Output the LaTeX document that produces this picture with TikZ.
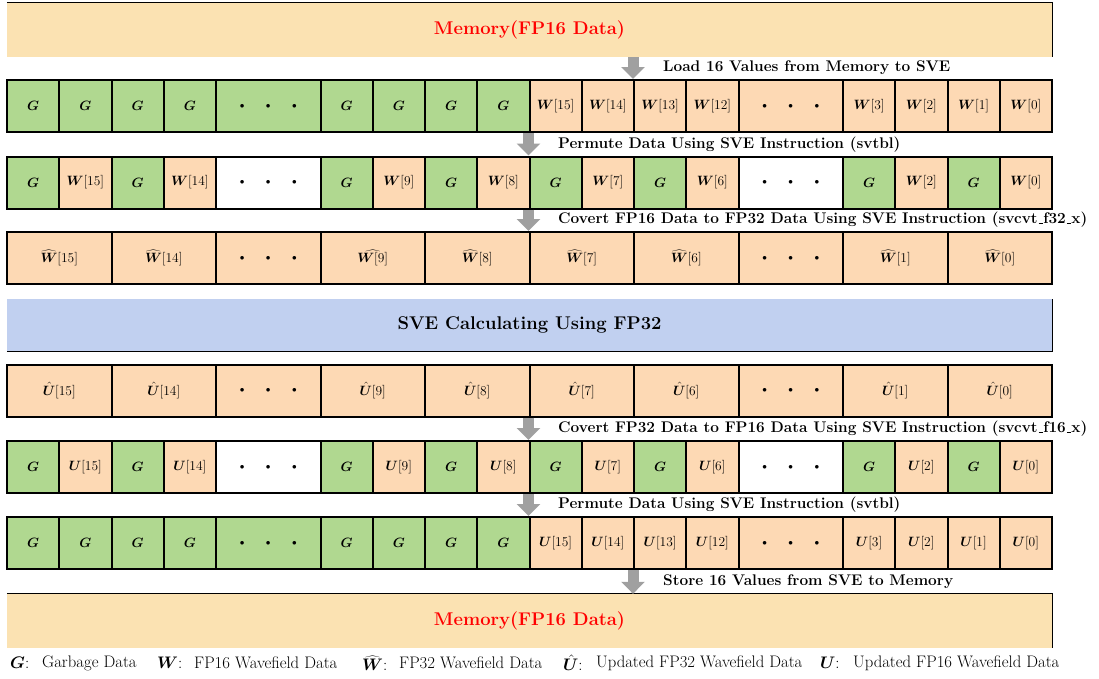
\RequirePackage{fix-cm}
\documentclass[tikz,border=0pt]{standalone}
\usepackage{bm}
\usepackage{fontspec}
\usetikzlibrary{arrows.meta}

\definecolor{cgreen}{RGB}{176,216,144}
\definecolor{cpeach}{RGB}{253,217,180}
\definecolor{cwheat}{RGB}{251,226,178}
\definecolor{cblue}{RGB}{193,208,240}
\definecolor{cgray}{RGB}{160,160,160}
\definecolor{cred}{RGB}{255,0,0}

\tikzset{
  cell/.style={draw, line width=2pt, inner sep=0pt, minimum height=52pt,
    font=\fontsize{13.5}{15}\selectfont},
  bandbox/.style={inner sep=0pt, minimum width=1045pt, minimum height=54pt,
    font=\fontsize{18.4}{21}\selectfont\bfseries},
  bandedge/.style={line width=1pt},
  flow/.style={line width=11pt, draw=cgray, -{Triangle[length=12pt,width=23pt]}},
  steplabel/.style={anchor=west, inner sep=0pt,
    font=\fontsize{15.4}{18}\selectfont\bfseries},
  legend/.style={anchor=west, inner sep=0pt, font=\fontsize{16.7}{19}\selectfont},
}

% three dots standing for the omitted lanes
\newcommand\lanedots{{\fontsize{9}{9}\selectfont$\bullet$\hspace{21.5pt}$\bullet$\hspace{21.5pt}$\bullet$}}
% narrow underscore for the intrinsic names
\newcommand\ubar{\kern.06em\vbox{\hrule width.3em height .6pt}}

% one register row: name, centre y, list of start/width/colour/text
\newcommand\lanerow[3]{%
  \foreach \s/\w/\c/\t [count=\i] in {#3} {
    \node[cell, fill=\c, minimum width={\w*52.25pt}] (#1-\i)
      at ({7+(\s+\w/2)*52.25}, #2) {\t};
  }}

\begin{document}
\begin{tikzpicture}[x=1pt, y=-1pt]
\useasboundingbox (0,0) rectangle (1099,678);

% memory (top)
\node[bandbox, fill=cwheat, text=cred] (mem1) at (529.5,30) {Memory(FP16 Data)};
\draw[bandedge] (mem1.north west) -- (mem1.north east) -- (mem1.south east);

% loaded FP16 lanes
\lanerow{r1}{106}{0/1/cgreen/{$\bm{G}$}, 1/1/cgreen/{$\bm{G}$}, 2/1/cgreen/{$\bm{G}$}, 3/1/cgreen/{$\bm{G}$},
  4/2/cgreen/{\lanedots}, 6/1/cgreen/{$\bm{G}$}, 7/1/cgreen/{$\bm{G}$}, 8/1/cgreen/{$\bm{G}$}, 9/1/cgreen/{$\bm{G}$},
  10/1/cpeach/{$\bm{W}[15]$}, 11/1/cpeach/{$\bm{W}[14]$}, 12/1/cpeach/{$\bm{W}[13]$}, 13/1/cpeach/{$\bm{W}[12]$},
  14/2/cpeach/{\lanedots}, 16/1/cpeach/{$\bm{W}[3]$}, 17/1/cpeach/{$\bm{W}[2]$}, 18/1/cpeach/{$\bm{W}[1]$}, 19/1/cpeach/{$\bm{W}[0]$}}

% permuted FP16 lanes
\lanerow{r2}{182.5}{0/1/cgreen/{$\bm{G}$}, 1/1/cpeach/{$\bm{W}[15]$}, 2/1/cgreen/{$\bm{G}$}, 3/1/cpeach/{$\bm{W}[14]$},
  4/2/white/{\lanedots}, 6/1/cgreen/{$\bm{G}$}, 7/1/cpeach/{$\bm{W}[9]$}, 8/1/cgreen/{$\bm{G}$}, 9/1/cpeach/{$\bm{W}[8]$},
  10/1/cgreen/{$\bm{G}$}, 11/1/cpeach/{$\bm{W}[7]$}, 12/1/cgreen/{$\bm{G}$}, 13/1/cpeach/{$\bm{W}[6]$},
  14/2/white/{\lanedots}, 16/1/cgreen/{$\bm{G}$}, 17/1/cpeach/{$\bm{W}[2]$}, 18/1/cgreen/{$\bm{G}$}, 19/1/cpeach/{$\bm{W}[0]$}}

% FP32 lanes
\lanerow{r3}{258}{0/2/cpeach/{$\widehat{\bm{W}}[15]$}, 2/2/cpeach/{$\widehat{\bm{W}}[14]$}, 4/2/cpeach/{\lanedots},
  6/2/cpeach/{$\widehat{\bm{W}[9]}$}, 8/2/cpeach/{$\widehat{\bm{W}}[8]$}, 10/2/cpeach/{$\widehat{\bm{W}}[7]$},
  12/2/cpeach/{$\widehat{\bm{W}}[6]$}, 14/2/cpeach/{\lanedots}, 16/2/cpeach/{$\widehat{\bm{W}}[1]$}, 18/2/cpeach/{$\widehat{\bm{W}}[0]$}}

% computation band
\node[bandbox, minimum height=52pt, fill=cblue] (sve) at (529.5,325) {SVE Calculating Using FP32};
\draw[bandedge] (sve.south west) -- (sve.south east) -- (sve.north east);

% updated FP32 lanes
\lanerow{r4}{390.5}{0/2/cpeach/{$\hat{\bm{U}}[15]$}, 2/2/cpeach/{$\hat{\bm{U}}[14]$}, 4/2/cpeach/{\lanedots},
  6/2/cpeach/{$\hat{\bm{U}}[9]$}, 8/2/cpeach/{$\hat{\bm{U}}[8]$}, 10/2/cpeach/{$\hat{\bm{U}}[7]$},
  12/2/cpeach/{$\hat{\bm{U}}[6]$}, 14/2/cpeach/{\lanedots}, 16/2/cpeach/{$\hat{\bm{U}}[1]$}, 18/2/cpeach/{$\hat{\bm{U}}[0]$}}

% converted FP16 lanes
\lanerow{r5}{467}{0/1/cgreen/{$\bm{G}$}, 1/1/cpeach/{$\bm{U}[15]$}, 2/1/cgreen/{$\bm{G}$}, 3/1/cpeach/{$\bm{U}[14]$},
  4/2/white/{\lanedots}, 6/1/cgreen/{$\bm{G}$}, 7/1/cpeach/{$\bm{U}[9]$}, 8/1/cgreen/{$\bm{G}$}, 9/1/cpeach/{$\bm{U}[8]$},
  10/1/cgreen/{$\bm{G}$}, 11/1/cpeach/{$\bm{U}[7]$}, 12/1/cgreen/{$\bm{G}$}, 13/1/cpeach/{$\bm{U}[6]$},
  14/2/white/{\lanedots}, 16/1/cgreen/{$\bm{G}$}, 17/1/cpeach/{$\bm{U}[2]$}, 18/1/cgreen/{$\bm{G}$}, 19/1/cpeach/{$\bm{U}[0]$}}

% packed FP16 lanes
\lanerow{r6}{543}{0/1/cgreen/{$\bm{G}$}, 1/1/cgreen/{$\bm{G}$}, 2/1/cgreen/{$\bm{G}$}, 3/1/cgreen/{$\bm{G}$},
  4/2/cgreen/{\lanedots}, 6/1/cgreen/{$\bm{G}$}, 7/1/cgreen/{$\bm{G}$}, 8/1/cgreen/{$\bm{G}$}, 9/1/cgreen/{$\bm{G}$},
  10/1/cpeach/{$\bm{U}[15]$}, 11/1/cpeach/{$\bm{U}[14]$}, 12/1/cpeach/{$\bm{U}[13]$}, 13/1/cpeach/{$\bm{U}[12]$},
  14/2/cpeach/{\lanedots}, 16/1/cpeach/{$\bm{U}[3]$}, 17/1/cpeach/{$\bm{U}[2]$}, 18/1/cpeach/{$\bm{U}[1]$}, 19/1/cpeach/{$\bm{U}[0]$}}

% memory (bottom)
\node[bandbox, fill=cwheat, text=cred] (mem2) at (529.5,621) {Memory(FP16 Data)};
\draw[bandedge] (mem2.north west) -- (mem2.north east) -- (mem2.south east);

% data movement arrows
\draw[flow] (mem1.south -| r1-12.north west) -- (r1-12.north west);
\draw[flow] (r1-10.south west) -- (r2-10.north west);
\draw[flow] (r2-10.south west) -- (r3-6.north west);
\draw[flow] (r4-6.south west) -- (r5-10.north west);
\draw[flow] (r5-10.south west) -- (r6-10.north west);
\draw[flow] (r6-12.south west) -- (mem2.north -| r6-12.south west);

% step labels
\node[steplabel] (s1) at (663,68) {Load 16 Values from Memory to SVE};
\node[steplabel] (s2) at (558,144.5) {Permute Data Using SVE Instruction (svtbl)};
\node[steplabel] (s3) at (558,220) {Covert FP16 Data to FP32 Data Using SVE Instruction (svcvt\ubar f32\ubar x)};
\node[steplabel] (s4) at (558,428.5) {Covert FP32 Data to FP16 Data Using SVE Instruction (svcvt\ubar f16\ubar x)};
\node[steplabel] (s5) at (558,505) {Permute Data Using SVE Instruction (svtbl)};
\node[steplabel] (s6) at (663,581.5) {Store 16 Values from SVE to Memory};

% legend: symbol and its meaning
\node[legend] (lk1) at (10,663) {$\bm{G}$:};
\node[legend] (lt1) at (42,663) {Garbage Data};
\node[legend] (lk2) at (157,663) {$\bm{W}$:};
\node[legend] (lt2) at (194,663) {FP16 Wavefield Data};
\node[legend] (lk3) at (362,663) {$\widehat{\bm{W}}$:};
\node[legend] (lt3) at (399,663) {FP32 Wavefield Data};
\node[legend] (lk4) at (563,663) {$\hat{\bm{U}}$:};
\node[legend] (lt4) at (596,663) {Updated FP32 Wavefield Data};
\node[legend] (lk5) at (820,663) {$\bm{U}$:};
\node[legend] (lt5) at (853,663) {Updated FP16 Wavefield Data};
\end{tikzpicture}
\end{document}
